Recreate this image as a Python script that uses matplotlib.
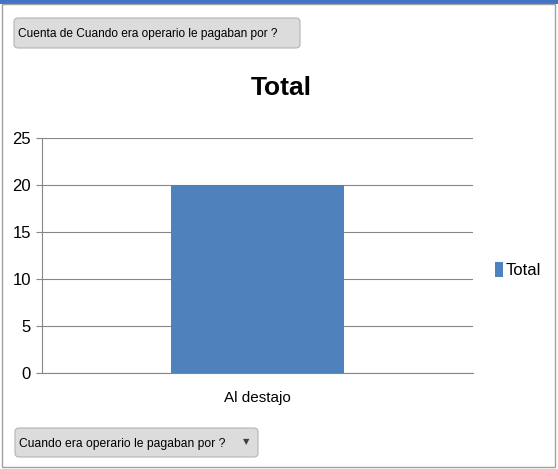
import matplotlib
matplotlib.use("Agg")
from matplotlib import pyplot as plt
from matplotlib.patches import FancyBboxPatch, Rectangle

plt.rcParams['font.family'] = ['Liberation Sans', 'DejaVu Sans']

categories = ["Al destajo"]
values = [20]
series_name = "Total"
yticks = [0, 5, 10, 15, 20, 25]

W, H = 558, 469
fig = plt.figure(figsize=(W / 100, H / 100), dpi=100)


def fx(px):
    return px / W


def fy(py):
    return 1 - py / H


# frame around the pivot chart
fig.patches.append(Rectangle((0, fy(4)), 1, fy(0) - fy(4), transform=fig.transFigure,
                             facecolor="#4472c4", edgecolor="none"))
fig.patches.append(Rectangle((fx(2), fy(467)), fx(555) - fx(2), fy(4) - fy(467),
                             transform=fig.transFigure, facecolor="none",
                             edgecolor="#a0a0a0", linewidth=1))

ax = fig.add_axes([fx(42), fy(373), fx(473) - fx(42), fy(138) - fy(373)])
x = range(len(categories))
ax.bar(x, values, width=0.4, color="#4f81bd", label=series_name, zorder=3)
ax.set_xlim(-0.5, len(categories) - 0.5)
ax.set_ylim(0, 25)
ax.set_yticks(yticks)
ax.set_xticks(list(x))
ax.set_xticklabels(categories, fontsize=11)
ax.tick_params(axis="y", labelsize=12, length=4, color="#868686", pad=4)
ax.tick_params(axis="x", length=0, pad=13)
ax.grid(axis="y", color="#868686", linewidth=0.8, zorder=0)
for s in ["top", "right"]:
    ax.spines[s].set_visible(False)
for s in ["left", "bottom"]:
    ax.spines[s].set_color("#868686")
    ax.spines[s].set_linewidth(0.8)

fig.text(fx(281), fy(88), "Total", ha="center", va="center", fontsize=19,
         fontweight="bold")

ax.legend(loc="center left", bbox_to_anchor=(fx(480), fy(270)),
          bbox_transform=fig.transFigure, frameon=False, fontsize=12,
          handlelength=0.5, handleheight=1.0, handletextpad=0.15)

# pivot field buttons
for (x0, y0, x1, y1, label, size) in [
    (14, 18, 300, 48, "Cuenta de Cuando era operario le pagaban por ?", 8.6),
    (15, 428, 258, 457, "Cuando era operario le pagaban por ?", 8.7),
]:
    fig.patches.append(FancyBboxPatch((fx(x0), fy(y1)), fx(x1) - fx(x0), fy(y0) - fy(y1),
                                      boxstyle="round,pad=0,rounding_size=0.008",
                                      transform=fig.transFigure,
                                      facecolor="#dcdcdc", edgecolor="#b4b4b4",
                                      linewidth=0.8))
    fig.text(fx(x0 + 4), fy((y0 + y1) / 2 + 1), label, ha="left", va="center",
             fontsize=size)
fig.text(fx(246), fy(442), "\u25bc", ha="center", va="center", fontsize=6,
         color="#404040", family="DejaVu Sans")

fig.savefig("out.png", dpi=100)
